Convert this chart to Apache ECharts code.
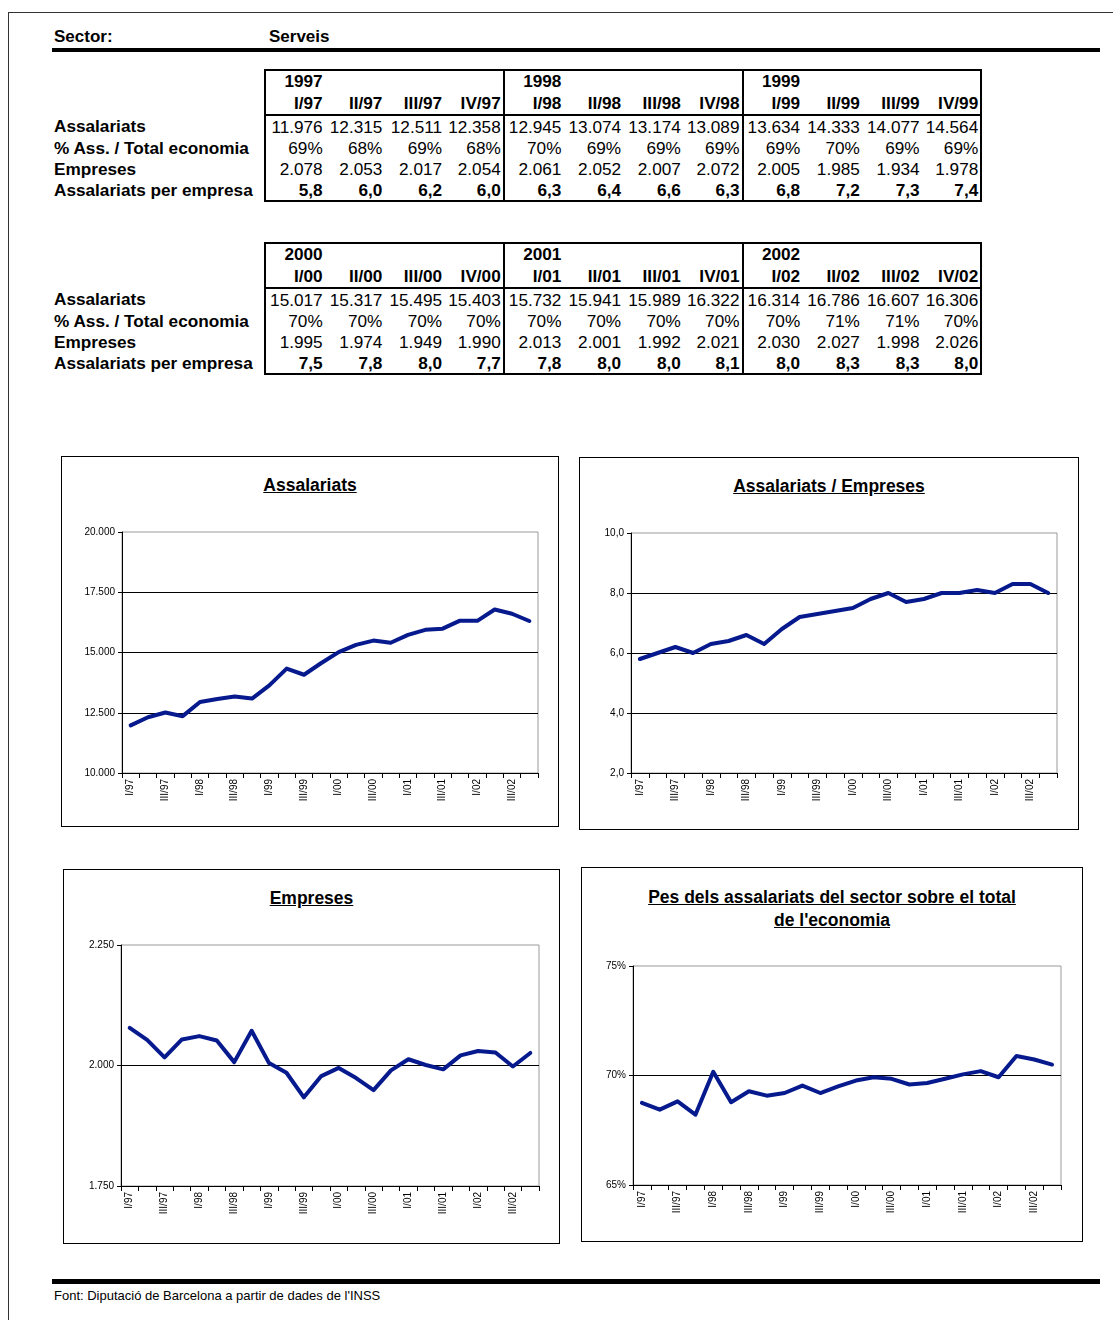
<!DOCTYPE html>
<html>
<head>
<meta charset="utf-8">
<script src="https://cdn.jsdelivr.net/npm/echarts@6/dist/echarts.min.js"></script>
<style>
  body { margin: 0; width: 1113px; height: 1320px; position: relative; background: #fff; font-family: Arial, 'Liberation Sans', sans-serif; color: #000; overflow: hidden; }
  .abs { position: absolute; }
  .rule { position: absolute; background: #000; }
  .bold { font-weight: bold; font-size: 17px; white-space: nowrap; }
  table.data { position: absolute; left: 52px; border-collapse: collapse; table-layout: fixed; font-size: 17.2px; }
  table.data td { padding: 0 2px 0 0; text-align: right; white-space: nowrap; height: 21px; line-height: 20px; vertical-align: middle; }
  table.data td.lbl { text-align: left; font-weight: bold; padding-left: 2px; }
  table.data tr.hd td { height: 21.5px; line-height: 21px; font-weight: bold; }
  table.data td.v.g0 { border-left: 2px solid #000; }
  table.data td.v.g3 { border-right: 2px solid #000; }
  table.data tr.top td.v { border-top: 2px solid #000; }
  table.data tr.sep td.v { border-bottom: 2px solid #000; }
  table.data tr.last td.v { border-bottom: 2px solid #000; font-weight: bold; }
  .box { position: absolute; border: 1px solid #000; box-sizing: border-box; }
  .box .ttl { position: absolute; left: 0; right: 0; text-align: center; font-weight: bold; font-size: 17.5px; line-height: 23px; }
  .box .ttl span { text-decoration: underline; }
  .box .cv { position: absolute; left: 0; top: 0; width: 100%; height: 100%; }
</style>
</head>
<body>
<div class="rule" style="left:8px;top:12px;width:1105px;height:1px;background:#333"></div>
<div class="rule" style="left:8px;top:12px;width:1px;height:1308px;background:#333"></div>

<div class="abs bold" style="left:54px;top:27px">Sector:</div>
<div class="abs bold" style="left:269px;top:27px">Serveis</div>
<div class="rule" style="left:52px;top:48px;width:1048px;height:4px"></div>

<table class="data" id="t1" style="top:69px"></table>
<table class="data" id="t2" style="top:242px"></table>

<div class="box" style="left:61px;top:456px;width:498px;height:371px">
  <div class="ttl" style="top:17px"><span>Assalariats</span></div>
  <div class="cv" id="c1"></div>
</div>
<div class="box" style="left:579px;top:457px;width:500px;height:373px">
  <div class="ttl" style="top:17px"><span>Assalariats / Empreses</span></div>
  <div class="cv" id="c2"></div>
</div>
<div class="box" style="left:63px;top:869px;width:497px;height:375px">
  <div class="ttl" style="top:17px"><span>Empreses</span></div>
  <div class="cv" id="c3"></div>
</div>
<div class="box" style="left:581px;top:867px;width:502px;height:375px">
  <div class="ttl" style="top:18px"><span>Pes dels assalariats del sector sobre el total</span><br><span>de l'economia</span></div>
  <div class="cv" id="c4"></div>
</div>

<div class="rule" style="left:52px;top:1279px;width:1048px;height:5px"></div>
<div class="abs" style="left:54px;top:1288px;font-size:13px;white-space:nowrap">Font: Diputació de Barcelona a partir de dades de l'INSS</div>

<script>
const years = ['1997', '1998', '1999', '2000', '2001', '2002']
const quarters = [
  'I/97', 'II/97', 'III/97', 'IV/97', 'I/98', 'II/98', 'III/98', 'IV/98',
  'I/99', 'II/99', 'III/99', 'IV/99', 'I/00', 'II/00', 'III/00', 'IV/00',
  'I/01', 'II/01', 'III/01', 'IV/01', 'I/02', 'II/02', 'III/02', 'IV/02',
]
const assalariats = [
  11976, 12315, 12511, 12358, 12945, 13074, 13174, 13089,
  13634, 14333, 14077, 14564, 15017, 15317, 15495, 15403,
  15732, 15941, 15989, 16322, 16314, 16786, 16607, 16306,
]
// rounded shares as printed in the table
const pctTable = [
  69, 68, 69, 68, 70, 69, 69, 69, 69, 70, 69, 69,
  70, 70, 70, 70, 70, 70, 70, 70, 70, 71, 71, 70,
]
const empreses = [
  2078, 2053, 2017, 2054, 2061, 2052, 2007, 2072,
  2005, 1985, 1934, 1978, 1995, 1974, 1949, 1990,
  2013, 2001, 1992, 2021, 2030, 2027, 1998, 2026,
]
const perEmpresa = [
  5.8, 6.0, 6.2, 6.0, 6.3, 6.4, 6.6, 6.3, 6.8, 7.2, 7.3, 7.4,
  7.5, 7.8, 8.0, 7.7, 7.8, 8.0, 8.0, 8.1, 8.0, 8.3, 8.3, 8.0,
]
// unrounded shares
const pctChart = [
  68.75, 68.44, 68.82, 68.21, 70.17, 68.78, 69.28, 69.08,
  69.20, 69.54, 69.20, 69.50, 69.77, 69.92, 69.85, 69.59,
  69.66, 69.85, 70.05, 70.20, 69.92, 70.89, 70.73, 70.50,
]

const thousands = v => String(v).replace(/\B(?=(\d{3})+(?!\d))/g, '.')
const comma1 = v => v.toFixed(1).replace('.', ',')

function buildTable(id, from) {
  const rows = [
    ['Assalariats', assalariats, thousands],
    ['% Ass. / Total economia', pctTable, v => v + '%'],
    ['Empreses', empreses, thousands],
    ['Assalariats per empresa', perEmpresa, comma1],
  ]
  let html = '<colgroup><col style="width:213px">'
  for (let i = 0; i < 12; i++) html += '<col style="width:59.7px">'
  html += '</colgroup>'
  const cls = i => 'v g' + (i % 4)

  html += '<tr class="hd top"><td class="lbl"></td>'
  for (let i = 0; i < 12; i++) {
    html += `<td class="${cls(i)}">${i % 4 === 0 ? years[from / 4 + i / 4] : ''}</td>`
  }
  html += '</tr><tr class="hd sep"><td class="lbl"></td>'
  for (let i = 0; i < 12; i++) html += `<td class="${cls(i)}">${quarters[from + i]}</td>`
  html += '</tr>'

  rows.forEach((r, k) => {
    html += `<tr${k === rows.length - 1 ? ' class="last"' : ''}><td class="lbl">${r[0]}</td>`
    for (let i = 0; i < 12; i++) html += `<td class="${cls(i)}">${r[2](r[1][from + i])}</td>`
    html += '</tr>'
  })
  document.getElementById(id).innerHTML = html
}
buildTable('t1', 0)
buildTable('t2', 12)

function lineOption(data, grid, min, max, interval, fmt) {
  const axisText = {color: '#000', fontSize: 10, fontFamily: 'Arial'}
  return {
    animation: false,
    grid: Object.assign({show: true, borderColor: '#9a9a9a', borderWidth: 1, backgroundColor: '#fff'}, grid),
    xAxis: {
      type: 'category',
      data: quarters,
      boundaryGap: true,
      axisLine: {lineStyle: {color: '#000', width: 1}},
      axisTick: {show: true, interval: 0, length: 5, lineStyle: {color: '#000'}},
      axisLabel: Object.assign({rotate: 90, interval: 1, margin: 6}, axisText),
    },
    yAxis: {
      type: 'value',
      min: min,
      max: max,
      interval: interval,
      axisLine: {show: true, lineStyle: {color: '#000', width: 1}},
      axisTick: {show: true, length: 4, lineStyle: {color: '#000'}},
      axisLabel: Object.assign({formatter: fmt, margin: 7}, axisText),
      splitLine: {show: true, showMaxLine: false, showMinLine: false, lineStyle: {color: '#000', width: 1}},
    },
    series: [{
      type: 'line',
      data: data,
      symbol: 'none',
      lineStyle: {color: '#061a8e', width: 4, cap: 'round', join: 'round'},
    }],
  }
}

echarts.init(document.getElementById('c1')).setOption(
  lineOption(assalariats, {left: 60, top: 75, right: 20, bottom: 53}, 10000, 20000, 2500, thousands))
echarts.init(document.getElementById('c2')).setOption(
  lineOption(perEmpresa, {left: 51, top: 75, right: 21, bottom: 56}, 2, 10, 2, comma1))
echarts.init(document.getElementById('c3')).setOption(
  lineOption(empreses, {left: 57, top: 75, right: 20, bottom: 57}, 1750, 2250, 250, thousands))
echarts.init(document.getElementById('c4')).setOption(
  lineOption(pctChart, {left: 51, top: 98, right: 21, bottom: 56}, 65, 75, 5, v => v + '%'))
</script>
</body>
</html>
